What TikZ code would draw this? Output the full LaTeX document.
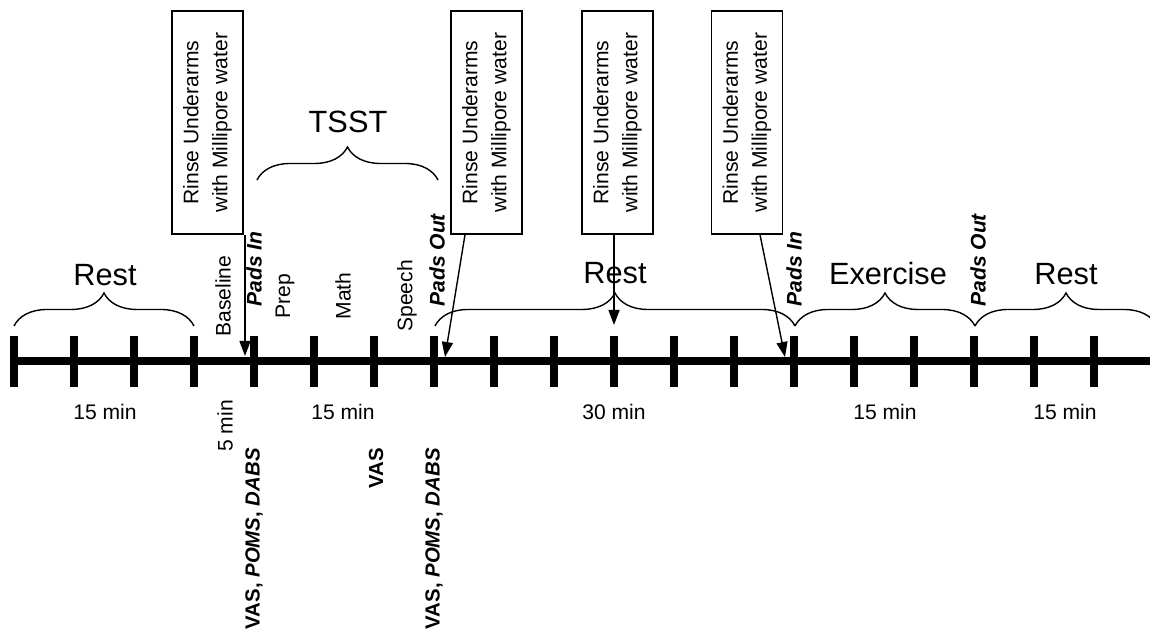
\documentclass[tikz,border=0pt]{standalone}
\usepackage{fontspec}
\setmainfont{Liberation Sans}
\usetikzlibrary{arrows.meta,decorations.pathreplacing}

\begin{document}
\begin{tikzpicture}[
  brc/.style={decorate,decoration={brace,amplitude=0.66cm},line width=0.8pt},
  arr/.style={-{Triangle[length=0.3cm,width=0.22cm]},line width=0.8pt},
  rinse/.style={draw,line width=0.8pt,rotate=90,minimum width=4.46cm,minimum height=1.42cm,
    align=center,font=\fontsize{12}{16.5}\selectfont},
  big/.style={font=\fontsize{17.5}{20}\selectfont},
  dur/.style={font=\fontsize{12}{14}\selectfont},
  vlab/.style={rotate=90,font=\fontsize{12}{14}\selectfont},
  pads/.style={rotate=90,anchor=west,inner sep=0pt,font=\fontsize{12}{14}\selectfont\bfseries\itshape},
  quest/.style={rotate=90,anchor=east,inner sep=0pt,font=\fontsize{11.6}{13}\selectfont\bfseries}
]
  \useasboundingbox (0,0) rectangle (23,12.68);
  % time axis with ticks every 5 min
  \draw[line width=4.5pt] (0.21,5.46) -- (23,5.46);
  \foreach \i in {0,...,18}
    \draw[line width=4pt] (0.28+1.2*\i,4.94) -- (0.28+1.2*\i,5.96);
  % phases
  \draw[brc] (0.28,6.16) -- (3.88,6.16);
  \node[big] (rest1) at (2.1,7.18) {Rest};
  \draw[brc] (5.14,9.08) -- (8.76,9.08);
  \node[big] (tsst) at (6.96,10.24) {TSST};
  \draw[brc] (8.7,6.16) -- (15.9,6.16);
  \node[big] (rest2) at (12.3,7.22) {Rest};
  \draw[brc] (15.9,6.16) -- (19.5,6.16);
  \node[big] (exer) at (17.76,7.2) {Exercise};
  \draw[brc] (19.5,6.16) -- (23.14,6.16);
  \node[big] (rest3) at (21.32,7.2) {Rest};
  % TSST steps
  \node[vlab] (base) at (4.46,6.76) {Baseline};
  \node[vlab] (prep) at (5.7,6.76) {Prep};
  \node[vlab] (math) at (6.86,6.76) {Math};
  \node[vlab] (speech) at (8.14,6.76) {Speech};
  % pads
  \node[pads] (pin1) at (5.08,6.54) {Pads In};
  \node[pads] (pout1) at (8.74,6.54) {Pads Out};
  \node[pads] (pin2) at (15.88,6.54) {Pads In};
  \node[pads] (pout2) at (19.56,6.54) {Pads Out};
  % rinsing
  \node[rinse] (box1) at (4.15,10.23) {Rinse Underarms\\with Millipore water};
  \node[rinse] (box2) at (9.73,10.23) {Rinse Underarms\\with Millipore water};
  \node[rinse] (box3) at (12.35,10.23) {Rinse Underarms\\with Millipore water};
  \node[rinse] (box4) at (14.94,10.23) {Rinse Underarms\\with Millipore water};
  \coordinate (t1) at (4.9,5.56);
  \coordinate (t2) at (8.9,5.54);
  \coordinate (t3) at (12.28,6.18);
  \coordinate (t4) at (15.7,5.54);
  \draw[arr] (box1.west -| t1) -- (t1);
  \draw[arr] ([xshift=-0.43cm]box2.west) -- (t2);
  \draw[arr] (box3.west -| t3) -- (t3);
  \draw[arr] ([xshift=0.26cm]box4.west) -- (t4);
  % durations
  \node[dur] (d1) at (2.1,4.44) {15 min};
  \node[dur,rotate=90] (d2) at (4.5,4.16) {5 min};
  \node[dur] (d3) at (6.86,4.44) {15 min};
  \node[dur] (d4) at (12.28,4.44) {30 min};
  \node[dur] (d5) at (17.7,4.44) {15 min};
  \node[dur] (d6) at (21.3,4.44) {15 min};
  % questionnaires
  \node[quest] (q1) at (5.08,3.72) {VAS, \textit{POMS}, \textit{DABS}};
  \node[quest] (q2) at (7.52,3.72) {VAS};
  \node[quest] (q3) at (8.68,3.72) {VAS, \textit{POMS}, \textit{DABS}};
\end{tikzpicture}
\end{document}
